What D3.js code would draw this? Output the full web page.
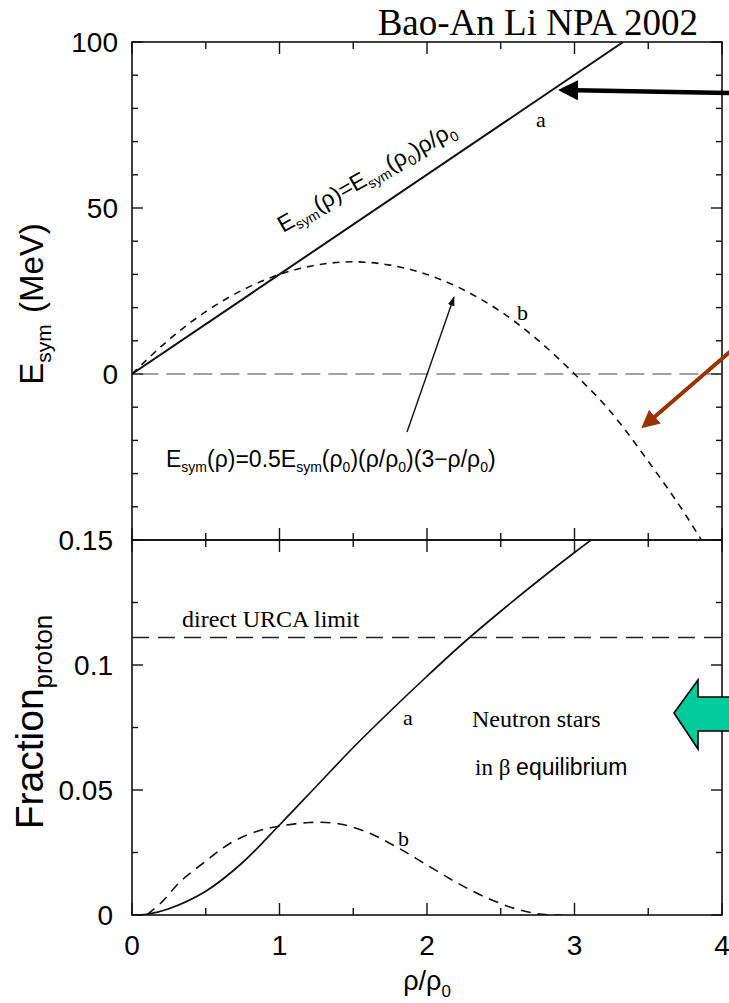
<!DOCTYPE html>
<html>
<head>
<meta charset="utf-8">
<script src="https://cdn.jsdelivr.net/npm/d3@7"></script>
<style>
  body { margin: 0; background: #fff; }
  svg { display: block; }
</style>
</head>
<body>
<div id="chart"></div>
<script>
// density axis, in units of rho0
const xTicks = [0, 1, 2, 3, 4];

// top panel: symmetry energy (MeV)
const esymTicks = [0, 50, 100];
const lineA = [[0, 0], [3.33, 100]];
const lineB = [[0, 0], [0.25, 10.3], [0.5, 18.8], [0.75, 25.3], [1, 30], [1.25, 32.8], [1.5, 33.8],
  [1.75, 32.8], [2, 30], [2.25, 25.3], [2.5, 18.8], [2.75, 10.3], [3, 0], [3.25, -11.6],
  [3.5, -26.3], [3.75, -42.2], [3.86, -50]];

// bottom panel: proton fraction
const fracTicks = [0, 0.05, 0.1, 0.15];
const fracA = [[0, 0], [0.1, 0.0003], [0.25, 0.0025], [0.5, 0.0095], [0.75, 0.021], [1, 0.036],
  [1.25, 0.0515], [1.5, 0.067], [1.75, 0.0815], [2, 0.0955], [2.25, 0.109], [2.5, 0.1215],
  [2.75, 0.1335], [3, 0.145], [3.25, 0.156]];
const fracB = [[0.1, 0], [0.2, 0.005], [0.33, 0.0135], [0.5, 0.0215], [0.66, 0.0285],
  [0.85, 0.0335], [1, 0.0355], [1.2, 0.037], [1.4, 0.0365], [1.6, 0.033], [1.8, 0.027],
  [2, 0.02], [2.2, 0.013], [2.4, 0.007], [2.6, 0.0025], [2.75, 0.0005], [2.85, 0], [2.92, 0]];
const urcaLimit = 0.111;

const W = 729, H = 1003;
const svg = d3.select("#chart").append("svg")
  .attr("width", W).attr("height", H);

const sans = "'Liberation Sans', Arial, sans-serif";
const serif = "'Liberation Serif', 'Times New Roman', serif";

const x = d3.scaleLinear().domain([0, 4]).range([132, 722]);
const yTop = d3.scaleLinear().domain([-50, 100]).range([540, 42]);
const yBot = d3.scaleLinear().domain([0, 0.15]).range([915, 540]);

// clip so curves stay inside each frame
const defs = svg.append("defs");
defs.append("clipPath").attr("id", "clipTop").append("rect")
  .attr("x", x(0)).attr("y", yTop(100)).attr("width", x(4) - x(0)).attr("height", yTop(-50) - yTop(100));
defs.append("clipPath").attr("id", "clipBot").append("rect")
  .attr("x", x(0)).attr("y", yBot(0.15)).attr("width", x(4) - x(0)).attr("height", yBot(0) - yBot(0.15));

function frame(y, yMinor, yMajor) {
  const g = svg.append("g");
  const [y0, y1] = y.range();
  g.append("rect").attr("x", x(0)).attr("y", y1).attr("width", x(4) - x(0)).attr("height", y0 - y1)
    .attr("fill", "none").attr("stroke", "#111").attr("stroke-width", 1.6);
  // y ticks left & right, pointing inward
  const yt = d3.range(0, 200).map(i => y.domain()[0] + i * yMinor).filter(v => v <= y.domain()[1] + 1e-9);
  yt.forEach(v => {
    const major = Math.abs(v / yMajor - Math.round(v / yMajor)) < 1e-6;
    const len = major ? 11 : 6;
    g.append("line").attr("x1", x(0)).attr("x2", x(0) + len).attr("y1", y(v)).attr("y2", y(v));
    g.append("line").attr("x1", x(4)).attr("x2", x(4) - len).attr("y1", y(v)).attr("y2", y(v));
  });
  // x ticks top & bottom, every 0.5
  d3.range(0, 4.01, 0.5).forEach(v => {
    const len = Number.isInteger(v) ? 12 : 7;
    g.append("line").attr("x1", x(v)).attr("x2", x(v)).attr("y1", y1).attr("y2", y1 + len);
    g.append("line").attr("x1", x(v)).attr("x2", x(v)).attr("y1", y0).attr("y2", y0 - len);
  });
  g.selectAll("line").attr("stroke", "#111").attr("stroke-width", 1.4);
  return g;
}

frame(yTop, 10, 50);
frame(yBot, 0.025, 0.05);

// y tick labels
svg.append("g").selectAll("text").data(esymTicks).join("text")
  .attr("x", 118).attr("y", d => yTop(d) + 10)
  .attr("text-anchor", "end").attr("font-family", sans).attr("font-size", 28)
  .text(d => d);
svg.append("g").selectAll("text").data(fracTicks).join("text")
  .attr("x", 113).attr("y", d => yBot(d) + 10)
  .attr("text-anchor", "end").attr("font-family", sans).attr("font-size", 28)
  .text(d => d);

// x tick labels
svg.append("g").selectAll("text").data(xTicks).join("text")
  .attr("x", d => x(d)).attr("y", 955)
  .attr("text-anchor", "middle").attr("font-family", sans).attr("font-size", 28)
  .text(d => d);

// axis titles
const xt = svg.append("text").attr("x", x(2)).attr("y", 990).attr("text-anchor", "middle")
  .attr("font-family", sans).attr("font-size", 27);
xt.append("tspan").text("ρ/ρ");
xt.append("tspan").attr("font-size", 17).attr("dy", 7).text("0");

const yt1 = svg.append("text").attr("transform", `translate(43,304) rotate(-90)`)
  .attr("text-anchor", "middle").attr("font-family", sans).attr("font-size", 33);
yt1.append("tspan").text("E");
yt1.append("tspan").attr("font-size", 21).attr("dy", 8).text("sym");
yt1.append("tspan").attr("dy", -8).attr("dx", 2).text(" (MeV)");

const yt2 = svg.append("text").attr("transform", `translate(43,722) rotate(-90)`)
  .attr("text-anchor", "middle").attr("font-family", sans).attr("font-size", 39);
yt2.append("tspan").text("Fraction");
yt2.append("tspan").attr("font-size", 26).attr("dy", 9).text("proton");

// curves
const lineTop = d3.line().x(d => x(d[0])).y(d => yTop(d[1])).curve(d3.curveMonotoneX);
const lineBot = d3.line().x(d => x(d[0])).y(d => yBot(d[1])).curve(d3.curveCatmullRom.alpha(0.5));

const gTop = svg.append("g").attr("clip-path", "url(#clipTop)");
gTop.append("line").attr("x1", x(0.05)).attr("x2", x(4)).attr("y1", yTop(0)).attr("y2", yTop(0))
  .attr("stroke", "#444").attr("stroke-width", 1.1).attr("stroke-dasharray", "19,8");
gTop.append("path").attr("d", lineTop(lineA)).attr("fill", "none").attr("stroke", "#111").attr("stroke-width", 2);
gTop.append("path").attr("d", lineTop(lineB)).attr("fill", "none").attr("stroke", "#111")
  .attr("stroke-width", 1.6).attr("stroke-dasharray", "7,6");

const gBot = svg.append("g").attr("clip-path", "url(#clipBot)");
gBot.append("line").attr("x1", x(0)).attr("x2", x(4)).attr("y1", yBot(urcaLimit)).attr("y2", yBot(urcaLimit))
  .attr("stroke", "#222").attr("stroke-width", 1.6).attr("stroke-dasharray", "17,9");
gBot.append("path").attr("d", lineBot(fracA)).attr("fill", "none").attr("stroke", "#111").attr("stroke-width", 1.7);
gBot.append("path").attr("d", lineBot(fracB)).attr("fill", "none").attr("stroke", "#111")
  .attr("stroke-width", 1.6).attr("stroke-dasharray", "10,7");

// label along line a (slightly less steep than the line itself)
const la = svg.append("text")
  .attr("transform", `translate(283,233) rotate(-29.5)`)
  .attr("font-family", sans).attr("font-size", 23);
la.append("tspan").text("E");
la.append("tspan").attr("font-size", 14).attr("dy", 5).text("sym");
la.append("tspan").attr("dy", -5).text("(ρ)=E");
la.append("tspan").attr("font-size", 14).attr("dy", 5).text("sym");
la.append("tspan").attr("dy", -5).text("(ρ");
la.append("tspan").attr("font-size", 14).attr("dy", 5).text("0");
la.append("tspan").attr("dy", -5).text(")ρ/ρ");
la.append("tspan").attr("font-size", 14).attr("dy", 5).text("0");

// label for curve b
const lb = svg.append("text").attr("x", 166).attr("y", 467)
  .attr("font-family", sans).attr("font-size", 23);
const parts = [["E", 0], ["sym", 1], ["(ρ)=0.5E", 0], ["sym", 1], ["(ρ", 0], ["0", 1], [")(ρ/ρ", 0], ["0", 1],
  [")(3−ρ/ρ", 0], ["0", 1], [")", 0]];
let prevSub = 0;
parts.forEach(([t, sub]) => {
  const ts = lb.append("tspan").text(t);
  if (sub !== prevSub) ts.attr("dy", sub ? 5 : -5);
  if (sub) ts.attr("font-size", 14);
  prevSub = sub;
});

// small letters a, b
const letters = [[536, 127], [517, 320], [403, 725], [398, 846]];
const letterText = ["a", "b", "a", "b"];
svg.append("g").selectAll("text").data(letters).join("text")
  .attr("x", d => d[0]).attr("y", d => d[1]).attr("font-family", serif).attr("font-size", 22)
  .text((d, i) => letterText[i]);

svg.append("text").attr("x", 182).attr("y", 627).attr("font-family", serif).attr("font-size", 24)
  .text("direct URCA limit");
svg.append("text").attr("x", 472).attr("y", 727).attr("font-family", serif).attr("font-size", 24)
  .text("Neutron stars");
const ib = svg.append("text").attr("x", 475).attr("y", 775).attr("font-size", 23);
ib.append("tspan").attr("font-family", serif).text("in β ");
ib.append("tspan").attr("font-family", sans).text("equilibrium");

// title
svg.append("text").attr("x", 698).attr("y", 35).attr("text-anchor", "end")
  .attr("font-family", serif).attr("font-size", 37).text("Bao-An Li NPA 2002");

// annotation arrows
defs.append("marker").attr("id", "headThin").attr("viewBox", "0 0 10 10").attr("refX", 9).attr("refY", 5)
  .attr("markerWidth", 7).attr("markerHeight", 7).attr("orient", "auto")
  .append("path").attr("d", "M0,1.5 L10,5 L0,8.5 Z").attr("fill", "#111");
svg.append("line").attr("x1", 407).attr("y1", 432).attr("x2", 454).attr("y2", 297)
  .attr("stroke", "#111").attr("stroke-width", 1.4).attr("marker-end", "url(#headThin)");

defs.append("marker").attr("id", "headBlack").attr("viewBox", "0 0 10 10").attr("refX", 8).attr("refY", 5)
  .attr("markerWidth", 4.5).attr("markerHeight", 4.5).attr("orient", "auto")
  .append("path").attr("d", "M0,0 L10,5 L0,10 Z").attr("fill", "#000");
svg.append("line").attr("x1", 735).attr("y1", 93).attr("x2", 562).attr("y2", 90)
  .attr("stroke", "#000").attr("stroke-width", 4.5).attr("marker-end", "url(#headBlack)");

defs.append("marker").attr("id", "headBrown").attr("viewBox", "0 0 10 10").attr("refX", 8).attr("refY", 5)
  .attr("markerWidth", 4.5).attr("markerHeight", 4.5).attr("orient", "auto")
  .append("path").attr("d", "M0,0 L10,5 L0,10 Z").attr("fill", "#993300");
svg.append("line").attr("x1", 732).attr("y1", 350).attr("x2", 644).attr("y2", 426)
  .attr("stroke", "#993300").attr("stroke-width", 4).attr("marker-end", "url(#headBrown)");

// green block arrow
svg.append("path")
  .attr("d", "M674,713 L698,680 L698,697 L735,697 L735,731 L698,731 L698,749 Z")
  .attr("fill", "#00CC99").attr("stroke", "#000").attr("stroke-width", 1.6).attr("stroke-linejoin", "miter");
</script>
</body>
</html>
